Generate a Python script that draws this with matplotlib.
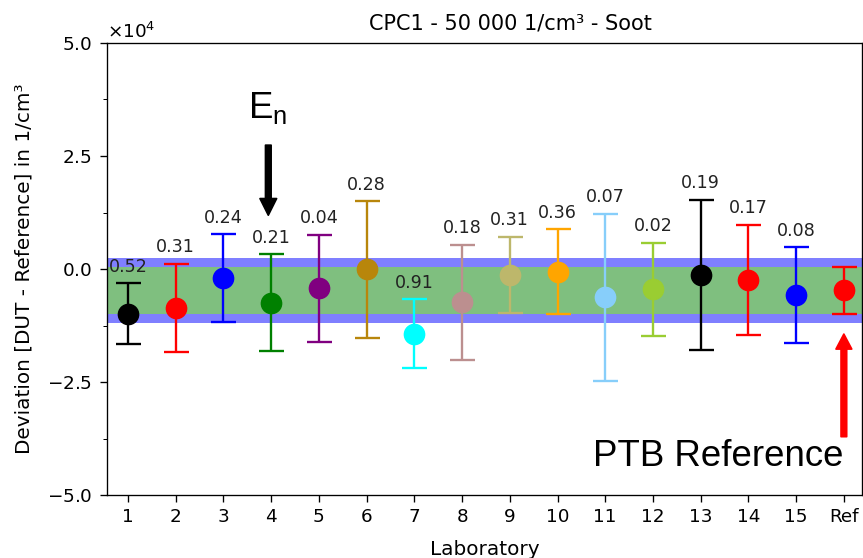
import matplotlib
matplotlib.use("Agg")
import matplotlib.pyplot as plt
from matplotlib.ticker import ScalarFormatter, MultipleLocator
import numpy as np

# ---- data (values in 1/cm^3) ----
labs = ["1", "2", "3", "4", "5", "6", "7", "8", "9", "10", "11", "12", "13", "14", "15", "Ref"]
deviation = [-9900, -8600, -2000, -7450, -4300, -100, -14300, -7400, -1300, -650,
             -6300, -4500, -1300, -2400, -5800, -4750]
uncertainty = [6700, 9800, 9700, 10700, 11900, 15100, 7600, 12700, 8450, 9400,
               18550, 10300, 16600, 12100, 10600, 5150]
en_values = [0.52, 0.31, 0.24, 0.21, 0.04, 0.28, 0.91, 0.18, 0.31, 0.36,
             0.07, 0.02, 0.19, 0.17, 0.08]
colors = ["black", "red", "blue", "green", "purple", "darkgoldenrod", "cyan",
          "rosybrown", "darkkhaki", "orange", "lightskyblue", "yellowgreen",
          "black", "red", "blue", "red"]
ref_value = -4750
ref_unc = 5150
ref_band_expanded = 7130

DPI = 120
fig = plt.figure(figsize=(863 / DPI, 558 / DPI), dpi=DPI)
ax = fig.add_axes([107 / 863, 1 - 495 / 558, (862 - 107) / 863, (495 - 43) / 558])

x = np.arange(1, len(labs) + 1)

ax.axhspan(ref_value - ref_band_expanded, ref_value + ref_band_expanded,
           color="blue", alpha=0.5, lw=0, zorder=1)
ax.axhspan(ref_value - ref_unc, ref_value + ref_unc,
           color="#7fbf7f", lw=0, zorder=1.5)

for xi, yi, ei, c in zip(x, deviation, uncertainty, colors):
    ax.errorbar(xi, yi, yerr=ei, fmt="o", color=c, ms=12, elinewidth=1.4,
                capsize=7.5, capthick=1.4, zorder=3)

for xi, yi, ei, en in zip(x, deviation, uncertainty, en_values):
    ax.annotate(f"{en:.2f}", (xi, yi + ei), xytext=(0, 10), textcoords="offset points",
                ha="center", va="center", fontsize=10.5, color="#222222", zorder=4)

# E_n annotation with arrow
ax.annotate("", xy=(3.94, 11900), xytext=(3.94, 27400),
            arrowprops=dict(color="black", width=3.4, headwidth=10, headlength=10),
            zorder=5)
ax.text(3.92, 33300, r"$\mathregular{E_n}$", fontsize=22, family="Liberation Sans",
        ha="center", va="baseline")

# PTB reference annotation
ax.annotate("", xy=(16.0, -14400), xytext=(16.0, -37100),
            arrowprops=dict(color="red", width=3.4, headwidth=9.5, headlength=9),
            zorder=5)
ax.text(16.0, -43500, "PTB Reference", fontsize=22, family="Liberation Sans",
        ha="right", va="baseline")

ax.set_xlim(0.56, 16.38)
ax.set_ylim(-50000, 50000)
ax.set_xticks(x)
ax.set_xticklabels(labs)
ax.yaxis.set_major_locator(MultipleLocator(25000))
ax.yaxis.set_minor_locator(MultipleLocator(12500))
fmt = ScalarFormatter(useMathText=True)
fmt.set_powerlimits((0, 0))
ax.yaxis.set_major_formatter(fmt)
ax.yaxis.get_offset_text().set_fontsize(11)

ax.tick_params(axis="both", which="major", labelsize=11, length=4)
ax.tick_params(axis="y", which="major", pad=5)
ax.tick_params(axis="x", which="major", pad=3.5)
ax.tick_params(axis="y", which="minor", length=2.6)

ax.set_title("CPC1 - 50 000 1/cm³ - Soot", fontsize=12.5, x=0.534, pad=8)
ax.set_ylabel("Deviation [DUT - Reference] in 1/cm³", fontsize=12, labelpad=8)
ax.set_xlabel("Laboratory", fontsize=12, labelpad=8.5)

fig.savefig("out.png", dpi=DPI)
